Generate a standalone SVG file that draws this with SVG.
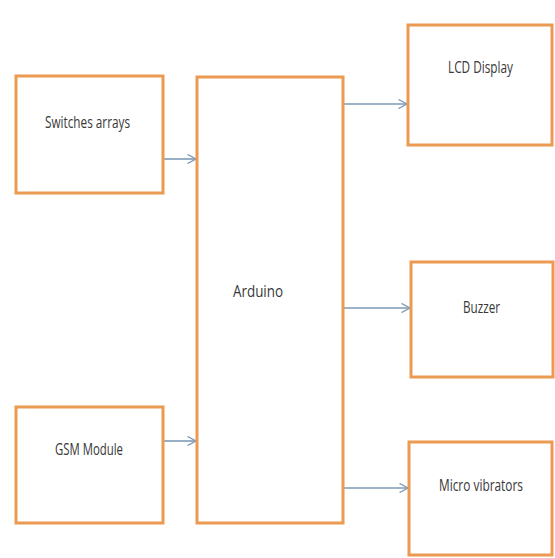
<svg xmlns="http://www.w3.org/2000/svg" width="555" height="558" viewBox="0 0 555 558">
<defs>
<style>
.box{fill:#fff;stroke:#EC9A52;stroke-width:3}
.lbl{font-family:"Open Sans","Liberation Sans",sans-serif;font-size:17px;fill:#383838;text-anchor:start}
.conn{stroke:#7D9AB8;stroke-width:1.6;fill:none}
</style>
<marker id="arr" viewBox="0 0 10 10" refX="9.5" refY="5" markerWidth="10" markerHeight="10" markerUnits="userSpaceOnUse" orient="auto">
<path d="M1,0.5 L9.5,5 L1,9.5" fill="none" stroke="#7D9AB8" stroke-width="1.4"/>
</marker>
</defs>
<rect width="555" height="558" fill="#fff"/>
<g id="connectors">
<line class="conn" x1="164" y1="159" x2="196" y2="159" marker-end="url(#arr)"/>
<line class="conn" x1="164" y1="441" x2="196" y2="441" marker-end="url(#arr)"/>
<line class="conn" x1="344" y1="104" x2="407" y2="104" marker-end="url(#arr)"/>
<line class="conn" x1="344" y1="308" x2="410" y2="308" marker-end="url(#arr)"/>
<line class="conn" x1="344" y1="488" x2="408" y2="488" marker-end="url(#arr)"/>
</g>
<g id="switches">
<rect class="box" x="16" y="76" width="147" height="117"/>
<text class="lbl" x="45" y="128" textLength="85" lengthAdjust="spacingAndGlyphs">Switches arrays</text>
</g>
<g id="gsm">
<rect class="box" x="16" y="407" width="147" height="116"/>
<text class="lbl" x="55" y="455" textLength="68" lengthAdjust="spacingAndGlyphs">GSM Module</text>
</g>
<g id="arduino">
<rect class="box" x="197" y="77" width="146" height="446"/>
<text class="lbl" x="233" y="297" textLength="50" lengthAdjust="spacingAndGlyphs">Arduino</text>
</g>
<g id="lcd">
<rect class="box" x="408" y="25" width="144" height="120"/>
<text class="lbl" x="448" y="73" textLength="65" lengthAdjust="spacingAndGlyphs">LCD Display</text>
</g>
<g id="buzzer">
<rect class="box" x="411" y="262" width="142" height="115"/>
<text class="lbl" x="463" y="313" textLength="37" lengthAdjust="spacingAndGlyphs">Buzzer</text>
</g>
<g id="micro">
<rect class="box" x="409" y="442" width="143" height="113"/>
<text class="lbl" x="439" y="491" textLength="84" lengthAdjust="spacingAndGlyphs">Micro vibrators</text>
</g>
</svg>
